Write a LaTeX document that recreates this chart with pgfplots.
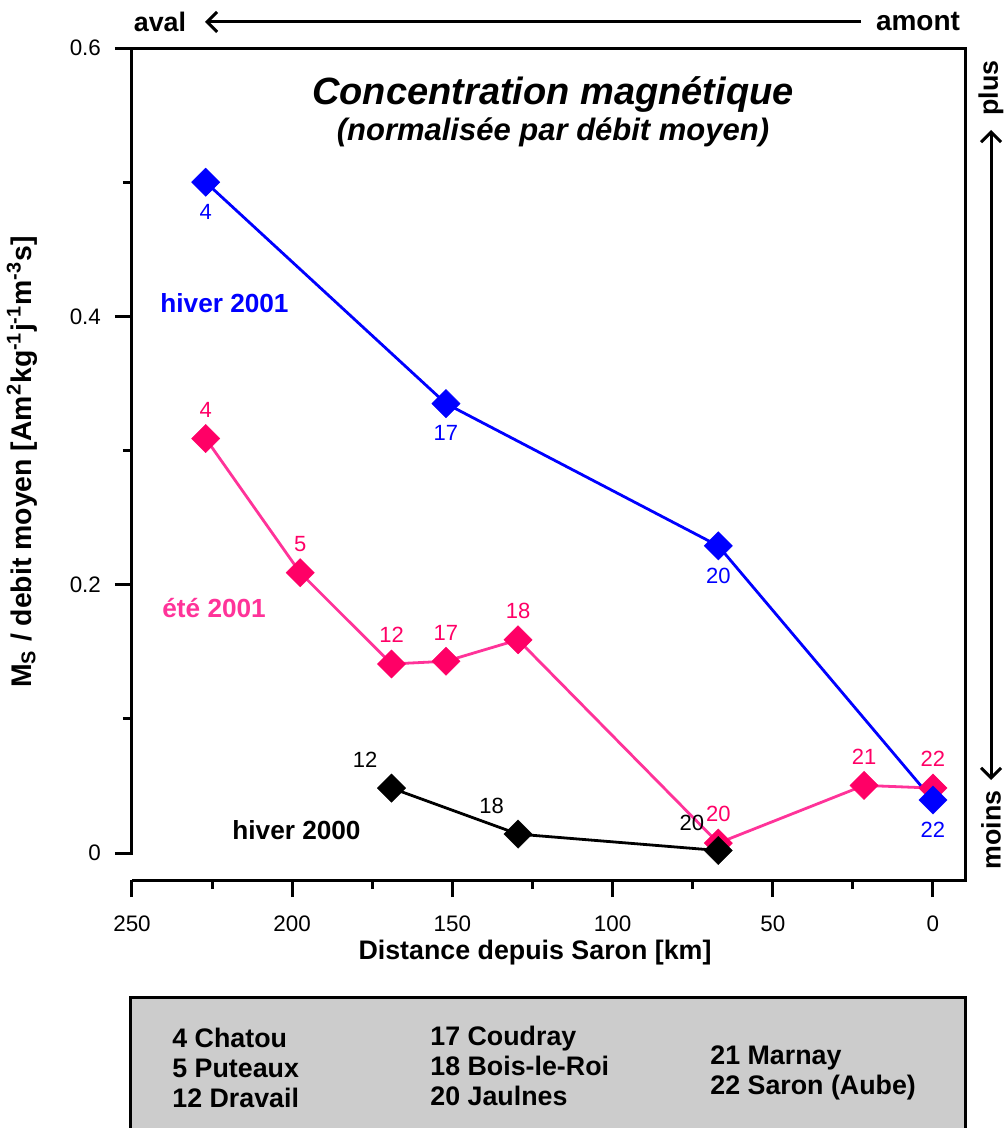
\documentclass[border=0pt]{standalone}
\usepackage{fontspec}
\setmainfont{Liberation Sans}
\usepackage{pgfplots}
\pgfplotsset{compat=1.18}
\usetikzlibrary{arrows.meta}
\definecolor{cblue}{RGB}{0,0,255}
\definecolor{cpink}{RGB}{255,0,102}
\definecolor{cpinkl}{RGB}{255,51,153}
\newcommand{\fs}[1]{\fontsize{#1}{#1}\selectfont}
\newcommand{\lab}{\bfseries\fs{13.4}}

\begin{document}
\begin{tikzpicture}
\useasboundingbox (0,0) rectangle (503.5pt,-564pt);
\begin{axis}[
  at={(66pt,-440pt)}, anchor=south west, scale only axis,
  width=416.5pt, height=416pt,
  x dir=reverse, xmin=-10, xmax=250, ymin=-0.02, ymax=0.6,
  xtick={0,50,100,150,200,250}, minor xtick={25,75,125,175,225},
  ytick={0,0.2,0.4,0.6}, minor ytick={0.1,0.3,0.5},
  xtick pos=bottom, ytick pos=left, tick align=outside,
  major tick length=8.5pt, minor tick length=4.5pt,
  tick style={black, line width=1.5pt},
  axis line style={draw=none},
  tick label style={font=\fs{11.2}},
  xticklabel style={yshift=-6pt},
  yticklabel style={xshift=-3.5pt},
  /pgf/number format/assume math mode=true,
  clip=false,
  every axis plot/.append style={line width=1.4pt},
  nodes near coords, point meta=explicit symbolic,
]
% ete 2001
\addplot[color=cpinkl, mark=square*, mark size=5pt,
  mark options={rotate=45, fill=cpink, draw=cpink, line width=0.2pt},
  every node near coord/.append style={font=\fs{11}, text=cpink, anchor=south, yshift=9.5pt, inner sep=1pt}]
  coordinates {(227,0.309)[4] (197.5,0.209)[5] (169,0.141)[12] (152,0.143)[17] (129.5,0.159)[18] (67,0.0075)[20] (21.5,0.0505)[21] (0,0.0485)[22]};
% hiver 2000
\addplot[color=black, mark=square*, mark size=5pt,
  mark options={rotate=45, fill=black, line width=0.2pt},
  every node near coord/.append style={font=\fs{11}, text=black, anchor=south east, xshift=-6pt, yshift=9pt, inner sep=1pt}]
  coordinates {(169,0.0485)[12] (129.5,0.0142)[18] (67,0.002)[20]};
% hiver 2001
\addplot[color=cblue, mark=square*, mark size=5pt,
  mark options={rotate=45, fill=cblue, line width=0.2pt},
  every node near coord/.append style={font=\fs{11}, text=cblue, anchor=north, yshift=-10pt, inner sep=1pt}]
  coordinates {(227,0.5)[4] (152,0.335)[17] (67,0.229)[20] (0,0.0396)[22]};
\draw[line width=1.5pt, line join=miter] (axis cs:250,-0.0015) -- (axis cs:250,0.6) -- (axis cs:-10,0.6) -- (axis cs:-10,-0.02) -- (axis cs:250,-0.02);
\end{axis}

% titles and series labels
\node[font=\bfseries\itshape\fs{19}] at (276.5pt,-47.5pt) {Concentration magnétique};
\node[font=\bfseries\itshape\fs{15.5}] at (276.5pt,-66pt) {(normalisée par débit moyen)};
\node[font=\bfseries\fs{13.1}, text=cblue, anchor=west, inner sep=0pt] at (80pt,-151.5pt) {hiver 2001};
\node[font=\bfseries\fs{13.1}, text=cpinkl, anchor=west, inner sep=0pt] at (81pt,-304pt) {été 2001};
\node[font=\bfseries\fs{13.1}, text=black, anchor=west, inner sep=0pt] at (116pt,-415pt) {hiver 2000};

% axis labels
\node[font=\lab] at (267.5pt,-476.5pt) {Distance depuis Saron [km]};
\node[font=\bfseries\fs{14.2}, rotate=90] at (11pt,-231pt) {M\textsubscript{S} / debit moyen [Am\textsuperscript{2}kg\textsuperscript{-1}j\textsuperscript{-1}m\textsuperscript{-3}s]};

% direction arrows
\node[font=\lab] at (80pt,-11pt) {aval};
\node[font=\bfseries\fs{14}] at (459pt,-11pt) {amont};
\draw[line width=1.5pt, -{Straight Barb[length=5pt, width=10pt]}] (430.5pt,-11pt) -- (102.5pt,-11pt);
\node[font=\lab, rotate=90] at (495.5pt,-44pt) {plus};
\node[font=\lab, rotate=90] at (495.5pt,-415pt) {moins};
\draw[line width=1.5pt, {Straight Barb[length=5pt, width=10pt]}-{Straight Barb[length=5pt, width=10pt]}] (495.5pt,-65pt) -- (495.5pt,-390pt);

% station list
\draw[line width=1.5pt, fill={rgb,255:red,204;green,204;blue,204}] (65pt,-570pt) -- (65pt,-498.5pt) -- (482.5pt,-498.5pt) -- (482.5pt,-570pt);
\begin{scope}[every node/.style={font=\lab, anchor=base west, inner sep=0pt}]
\node at (86pt,-523.75pt) {4 Chatou};
\node at (86pt,-538.75pt) {5 Puteaux};
\node at (86pt,-553.75pt) {12 Dravail};
\node at (215pt,-522.75pt) {17 Coudray};
\node at (215pt,-537.75pt) {18 Bois-le-Roi};
\node at (215pt,-552.75pt) {20 Jaulnes};
\node at (355pt,-532.25pt) {21 Marnay};
\node at (355pt,-547.25pt) {22 Saron (Aube)};
\end{scope}
\end{tikzpicture}
\end{document}
